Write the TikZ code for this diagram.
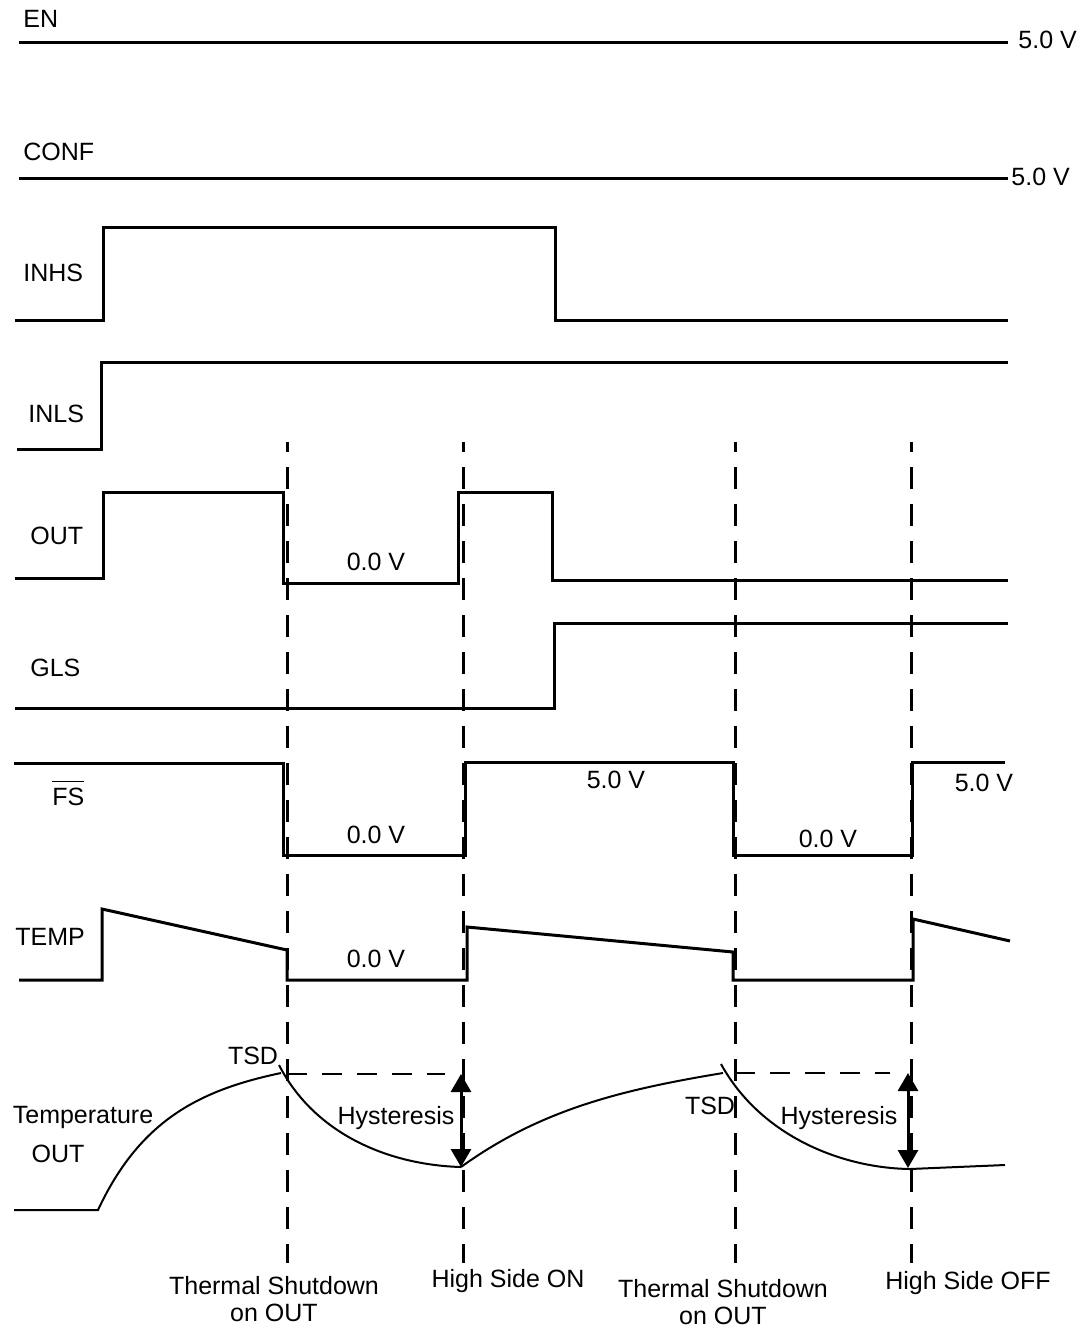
\documentclass[tikz,border=0pt]{standalone}
\usepackage{fontspec}
\setmainfont{Liberation Sans}
\usetikzlibrary{arrows.meta}
\begin{document}
\begin{tikzpicture}[x=0.5pt,y=-0.5pt,
    sig/.style={line width=1.5pt, line join=miter},
    curve/.style={line width=1pt},
    tline/.style={line width=1.5pt, dash pattern=on 11pt off 7.5pt, dash phase=6pt},
    hline/.style={line width=1.2pt, dash pattern=on 10pt off 7.5pt},
    lbl/.style={font=\fontsize{12.5}{13.5}\selectfont, inner sep=0pt},
    hyst/.style={line width=1.5pt, {Triangle[width=10pt,length=9pt]}-{Triangle[width=10pt,length=9pt]}}]
    \useasboundingbox (0,0) rectangle (1083,1329);
    % EN, CONF
    \draw[sig] (19,42) -- (1008,42);
    \node[lbl, anchor=base west] (en) at (23,27) {EN};
    \node[lbl, anchor=base west] (enval) at (1018,48) {5.0 V};
    \draw[sig] (19,178) -- (1008,178);
    \node[lbl, anchor=base west] (conf) at (23,160) {CONF};
    \node[lbl, anchor=base west] (confval) at (1011,185) {5.0 V};
    % INHS, INLS
    \draw[sig] (15,320) -- (103,320) -- (103,227) -- (555,227) -- (555,320) -- (1008,320);
    \node[lbl, anchor=base west] (inhs) at (23,281) {INHS};
    \draw[sig] (17,449) -- (101,449) -- (101,362) -- (1008,362);
    \node[lbl, anchor=base west] (inls) at (28,422) {INLS};
    % OUT, GLS
    \draw[sig] (15,578) -- (103,578) -- (103,492) -- (283,492) -- (283,583) -- (458,583) -- (458,492)
        -- (552,492) -- (552,580) -- (1008,580);
    \node[lbl, anchor=base west] (out) at (30,544) {OUT};
    \node[lbl, anchor=base] (outlow) at (376,570) {0.0 V};
    \draw[sig] (15,708) -- (554,708) -- (554,623) -- (1008,623);
    \node[lbl, anchor=base west] (gls) at (30,676) {GLS};
    % FS
    \draw[sig] (14,763) -- (283,763) -- (283,855) -- (465,855) -- (465,762) -- (733,762) -- (733,855)
        -- (912,855) -- (912,762) -- (1005,762);
    \node[lbl, anchor=base west] (fs) at (52,805) {$\overline{\rule{0pt}{10.6pt}\hbox{FS}}$};
    \node[lbl, anchor=base] (fslowa) at (376,843) {0.0 V};
    \node[lbl, anchor=base] (fshigha) at (616,788) {5.0 V};
    \node[lbl, anchor=base] (fslowb) at (828,847) {0.0 V};
    \node[lbl, anchor=base] (fshighb) at (984,791) {5.0 V};
    % TEMP
    \draw[sig] (19,980) -- (102,980) -- (102,909) -- (287,950) -- (287,980) -- (467,980) -- (467,927)
        -- (733,952) -- (733,980) -- (913,980) -- (913,919) -- (1010,941);
    \node[lbl, anchor=base west] (temp) at (15,945) {TEMP};
    \node[lbl, anchor=base] (templow) at (376,967) {0.0 V};
    % event lines
    \foreach \x in {287,463,735,911}
        \draw[tline] (\x,442) -- (\x,1263);
    % junction temperature
    \coordinate (peakA) at (281,1073);
    \coordinate (dipA) at (461,1167);
    \coordinate (peakB) at (723,1073);
    \coordinate (dipB) at (910,1169);
    \draw[curve] (14,1210) -- (98,1210) .. controls (140,1120) and (200,1090) .. (peakA);
    \draw[curve] (279,1065) .. controls (315,1135) and (390,1165) .. (dipA);
    \draw[curve] (dipA) .. controls (540,1110) and (620,1090) .. (peakB);
    \draw[curve] (721,1064) .. controls (760,1135) and (840,1168) .. (dipB) -- (1005,1165);
    \draw[hline] (287,1074) -- (445,1074);
    \draw[hline] (735,1073) -- (890,1073);
    \coordinate (hysAtop) at (461,1074);
    \coordinate (hysBtop) at (908,1073);
    \draw[hyst] (hysAtop) -- (dipA);
    \draw[hyst] (hysBtop) -- (908,1168);
    \node[lbl, anchor=base] (tsda) at (253,1064) {TSD};
    \node[lbl, anchor=base] (tsdb) at (710,1114) {TSD};
    \node[lbl, anchor=base] (hysa) at (396,1124) {Hysteresis};
    \node[lbl, anchor=base] (hysb) at (839,1124) {Hysteresis};
    \node[lbl, anchor=base] (tempout) at (83,1123) {Temperature};
    \node[lbl, anchor=base] (tempoutb) at (58,1162) {OUT};
    % events
    \node[lbl, anchor=north, align=center] (tsdouta) at (274,1276) {Thermal Shutdown\\on OUT};
    \node[lbl, anchor=base] (hson) at (508,1287) {High Side ON};
    \node[lbl, anchor=north, align=center] (tsdoutb) at (723,1279) {Thermal Shutdown\\on OUT};
    \node[lbl, anchor=base] (hsoff) at (968,1289) {High Side OFF};
\end{tikzpicture}
\end{document}
